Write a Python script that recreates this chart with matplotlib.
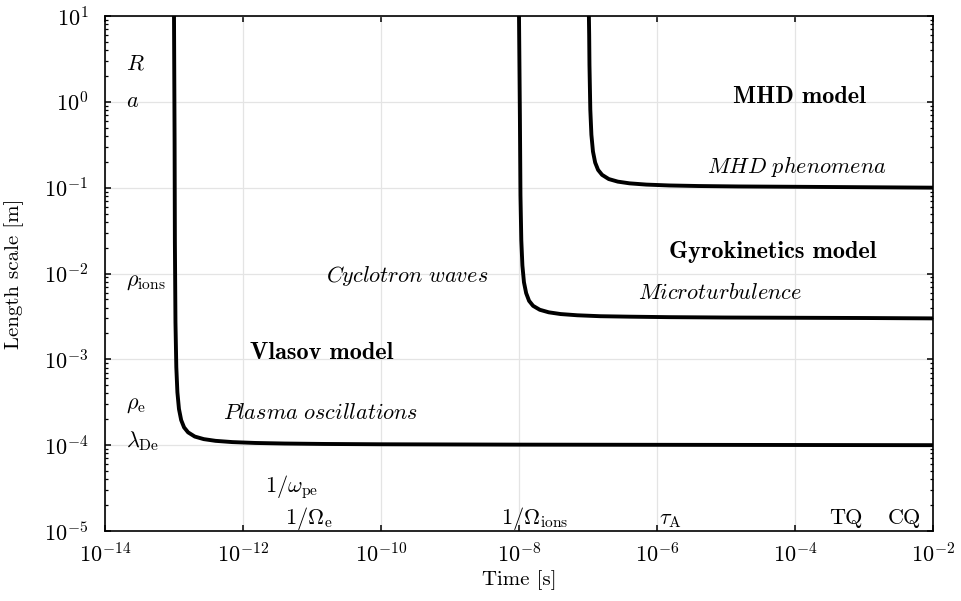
import matplotlib
matplotlib.use("Agg")
import matplotlib.pyplot as plt
from matplotlib.ticker import FixedLocator, LogLocator, NullLocator, NullFormatter

plt.rcParams.update({
    "font.family": "serif",
    "font.serif": ["cmr10"],
    "mathtext.fontset": "cm",
    "axes.formatter.use_mathtext": True,
    "font.size": 16,
})

# Boundary between the Vlasov and the gyrokinetic/MHD domains
vlasov_t = [1.00e-13, 1.02e-13, 1.03e-13, 1.05e-13, 1.08e-13, 1.12e-13, 1.18e-13,
            1.27e-13, 1.40e-13, 1.60e-13, 2.00e-13, 2.70e-13, 4.00e-13, 7.00e-13,
            1.50e-12, 4.00e-12, 1.50e-11, 1.00e-10, 1.00e-8, 1.00e-2]
vlasov_l = [10.0, 0.34, 2.3e-2, 2.7e-3, 8.1e-4, 4.13e-4, 2.64e-4,
            1.96e-4, 1.61e-4, 1.41e-4, 1.26e-4, 1.176e-4, 1.123e-4, 1.086e-4,
            1.061e-4, 1.045e-4, 1.033e-4, 1.024e-4, 1.014e-4, 1.0e-4]

# Boundary of the gyrokinetic domain
gyro_t = [1.00e-8, 1.03e-8, 1.05e-8, 1.08e-8, 1.12e-8, 1.18e-8, 1.27e-8,
          1.40e-8, 1.60e-8, 2.00e-8, 2.70e-8, 4.00e-8, 7.00e-8, 1.50e-7,
          4.00e-7, 1.50e-6, 1.00e-5, 1.00e-3, 1.00e-2]
gyro_l = [10.0, 0.69, 8.1e-2, 2.43e-2, 1.24e-2, 7.9e-3, 5.9e-3,
          4.8e-3, 4.2e-3, 3.78e-3, 3.53e-3, 3.37e-3, 3.26e-3, 3.18e-3,
          3.14e-3, 3.10e-3, 3.07e-3, 3.03e-3, 3.0e-3]

# Boundary of the MHD domain
mhd_t = [1.03e-7, 1.04e-7, 1.05e-7, 1.08e-7, 1.12e-7, 1.18e-7, 1.27e-7,
         1.40e-7, 1.60e-7, 2.00e-7, 2.70e-7, 4.00e-7, 7.00e-7, 1.50e-6,
         4.00e-6, 1.50e-5, 1.00e-4, 1.00e-2]
mhd_l = [10.0, 6.0, 2.7, 0.81, 0.413, 0.264, 0.196,
         0.161, 0.141, 0.126, 0.1176, 0.1123, 0.1086, 0.1061,
         0.1045, 0.1033, 0.1024, 0.100]

x_ticks = [1e-14, 1e-12, 1e-10, 1e-8, 1e-6, 1e-4, 1e-2]
y_ticks = [1e-5, 1e-4, 1e-3, 1e-2, 1e-1, 1e0, 1e1]

fig = plt.figure(figsize=(9.61, 6.01), dpi=100)
ax = fig.add_axes([105 / 961, 1 - 531 / 601, 828 / 961, 515 / 601])
ax.set_xscale("log")
ax.set_yscale("log")
ax.set_xlim(1e-14, 1e-2)
ax.set_ylim(1e-5, 1e1)

ax.xaxis.set_major_locator(FixedLocator(x_ticks))
ax.xaxis.set_minor_locator(NullLocator())
ax.yaxis.set_major_locator(FixedLocator(y_ticks))
ax.yaxis.set_minor_locator(LogLocator(base=10, subs=range(2, 10), numticks=20))
ax.yaxis.set_minor_formatter(NullFormatter())

ax.grid(True, which="major", color="#e4e4e4", linewidth=0.9, zorder=0)
for s in ax.spines.values():
    s.set_linewidth(1.2)
ax.tick_params(which="both", direction="in", top=True, right=True)
ax.tick_params(which="major", length=4.5, width=1.1)
ax.tick_params(which="minor", length=2.5, width=0.9)
ax.tick_params(axis="y", which="major", pad=12, labelsize=16)
ax.tick_params(axis="x", which="major", pad=8, labelsize=16)

for t, l in [(vlasov_t, vlasov_l), (gyro_t, gyro_l), (mhd_t, mhd_l)]:
    ax.plot(t, l, color="black", linewidth=2.8, solid_capstyle="butt", zorder=3)

ax.set_xlabel("Time [s]", fontsize=15)
ax.set_ylabel("Length scale [m]", fontsize=15)
ax.xaxis.set_label_coords(0.5, -0.077)
ax.yaxis.set_label_coords(-0.098, 0.5)

# Characteristic length scales
for x, y, s in [(2e-14, 2.35, r"$R$"), (2e-14, 0.87, r"$a$"),
                (2e-14, 7.2e-3, r"$\rho_{\rm ions}$"), (2e-14, 2.67e-4, r"$\rho_{\rm e}$"),
                (2e-14, 9.5e-5, r"$\lambda_{\rm De}$")]:
    ax.text(x, y, s, ha="left", va="baseline", fontsize=16)

# Characteristic time scales
for x, y, s in [(10**-11.29, 2.8e-5, r"$1/\omega_{\rm pe}$"),
                (10**-11.04, 1.21e-5, r"$1/\Omega_{\rm e}$"),
                (10**-7.77, 1.21e-5, r"$1/\Omega_{\rm ions}$"),
                (10**-5.81, 1.21e-5, r"$\tau_{\rm A}$"),
                (10**-3.26, 1.21e-5, r"TQ"),
                (10**-2.42, 1.21e-5, r"CQ")]:
    ax.text(x, y, s, ha="center", va="baseline", fontsize=16)

# Model domains
for x, y, s in [(10**-10.86, 1.2e-3, "Vlasov model"),
                (10**-4.32, 1.76e-2, "Gyrokinetics model"),
                (10**-3.93, 1.14, "MHD model")]:
    ax.text(x, y, s, ha="center", va="center", fontsize=17.5, fontname="cmb10")

# Physical phenomena
for x, y, s in [(10**-9.62, 9.3e-3, r"$\mathit{Cyclotron\ waves}$"),
                (10**-10.87, 2.4e-4, r"$\mathit{Plasma\ oscillations}$"),
                (10**-5.09, 6.0e-3, r"$\mathit{Microturbulence}$"),
                (10**-3.97, 0.178, r"$\mathit{MHD\ phenomena}$")]:
    ax.text(x, y, s, ha="center", va="center", fontsize=16)

fig.savefig("out.png", dpi=100)
